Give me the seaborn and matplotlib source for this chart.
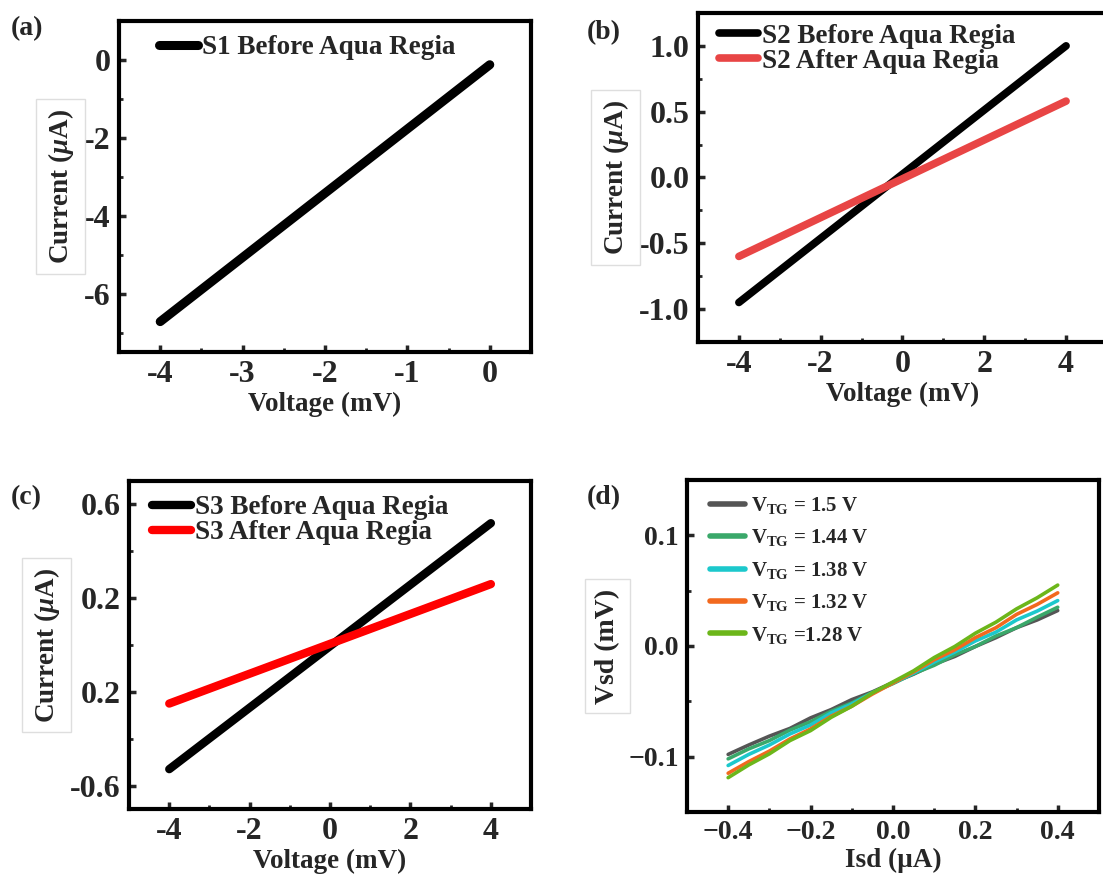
import numpy as np
import pandas as pd
import matplotlib
matplotlib.use("Agg")
import matplotlib.pyplot as plt
import seaborn as sns
from matplotlib.ticker import AutoMinorLocator

# ---- data ----
# (a) S1 before aqua regia
volt_a = [-4, 0]
cur_a = [-6.72, -0.12]

# (b) S2 before / after
volt_b = [-4, 4]
cur_b_before = [-0.95, 1.0]
cur_b_after = [-0.60, 0.58]

# (c) S3 before / after
volt_c = [-4, 4]
cur_c_before = [-0.53, 0.52]
cur_c_after = [-0.25, 0.26]
yticks_c = [-0.6, -0.2, 0.2, 0.6]
ytick_labels_c = ["-0.6", "0.2", "0.2", "0.6"]

# (d) Vsd vs Isd for several top-gate voltages
isd = [-0.4, -0.35, -0.3, -0.25, -0.2, -0.15, -0.1, -0.05, 0.0,
       0.05, 0.1, 0.15, 0.2, 0.25, 0.3, 0.35, 0.4]
vsd_150 = [-0.098, -0.0895, -0.0815, -0.0745, -0.0650, -0.0575, -0.0485, -0.0415, -0.0330,
           -0.0255, -0.0165, -0.0095, -0.0005, 0.0075, 0.0165, 0.0235, 0.0320]
vsd_144 = [-0.102, -0.0930, -0.0855, -0.0760, -0.0685, -0.0590, -0.0515, -0.0420, -0.0340,
           -0.0250, -0.0175, -0.0080, -0.0005, 0.0090, 0.0165, 0.0260, 0.0350]
vsd_138 = [-0.108, -0.0980, -0.0895, -0.0795, -0.0715, -0.0605, -0.0525, -0.0425, -0.0335,
           -0.0245, -0.0145, -0.0055, 0.0045, 0.0125, 0.0235, 0.0315, 0.0410]
vsd_132 = [-0.115, -0.1045, -0.0950, -0.0840, -0.0750, -0.0635, -0.0545, -0.0435, -0.0335,
           -0.0235, -0.0125, -0.0035, 0.0075, 0.0165, 0.0285, 0.0375, 0.0480]
vsd_128 = [-0.119, -0.1075, -0.0975, -0.0855, -0.0765, -0.0645, -0.0545, -0.0425, -0.0325,
           -0.0225, -0.0105, -0.0005, 0.0115, 0.0215, 0.0335, 0.0435, 0.0550]
vtg_labels = [r"$\mathrm{V}_{\mathrm{TG}}$ = 1.5 V", r"$\mathrm{V}_{\mathrm{TG}}$ = 1.44 V",
              r"$\mathrm{V}_{\mathrm{TG}}$ = 1.38 V", r"$\mathrm{V}_{\mathrm{TG}}$ = 1.32 V",
              r"$\mathrm{V}_{\mathrm{TG}}$ =1.28 V"]
vtg_colors = ["#555555", "#3aa86a", "#1cc8cc", "#f2691e", "#6cb61a"]
xticks_d = [-0.4, -0.2, 0.0, 0.2, 0.4]
xtick_labels_d = ["\u22120.4", "\u22120.2", "0.0", "0.2", "0.4"]
yticks_d = [-0.1, 0.0, 0.1]
ytick_labels_d = ["\u22120.1", "0.0", "0.1"]

sns.set_style("ticks")
plt.rcParams["font.family"] = ["Liberation Serif", "DejaVu Serif"]
plt.rcParams["font.weight"] = "bold"
plt.rcParams["axes.labelweight"] = "bold"
plt.rcParams["axes.unicode_minus"] = False
plt.rcParams["mathtext.fontset"] = "custom"
plt.rcParams["mathtext.rm"] = "Liberation Serif:bold"
plt.rcParams["mathtext.it"] = "Liberation Serif:italic:bold"
plt.rcParams["mathtext.bf"] = "Liberation Serif:bold"

fig = plt.figure(figsize=(11.03, 8.8), dpi=100)
ax_a = fig.add_axes([0.1079, 0.600, 0.3735, 0.376])
ax_b = fig.add_axes([0.6328, 0.6114, 0.3708, 0.3739])
ax_c = fig.add_axes([0.1170, 0.0807, 0.3645, 0.3727])
ax_d = fig.add_axes([0.6228, 0.0773, 0.3735, 0.3773])

lab_box = dict(boxstyle="square,pad=0.35", fc="none", ec="#dedede", lw=1)


def style(ax, tsize):
    for s in ax.spines.values():
        s.set_linewidth(3)
        s.set_color("black")
    ax.tick_params(which="major", direction="in", length=5, width=2.5,
                   labelsize=tsize, top=False, right=False, pad=6)
    ax.tick_params(which="minor", direction="in", length=3, width=2)
    ax.xaxis.set_minor_locator(AutoMinorLocator(2))
    ax.yaxis.set_minor_locator(AutoMinorLocator(2))
    for t in ax.get_xticklabels() + ax.get_yticklabels():
        t.set_fontweight("bold")


# (a)
sns.lineplot(x=volt_a, y=cur_a, ax=ax_a, color="black", lw=6.5,
             solid_capstyle="round", label="S1 Before Aqua Regia")
ax_a.set_xlim(-4.5, 0.5)
ax_a.set_ylim(-7.5, 1)
ax_a.set_xticks([-4, -3, -2, -1, 0])
ax_a.set_yticks([-6, -4, -2, 0])

# (b)
sns.lineplot(x=volt_b, y=cur_b_before, ax=ax_b, color="black", lw=5.5,
             solid_capstyle="round", label="S2 Before Aqua Regia")
sns.lineplot(x=volt_b, y=cur_b_after, ax=ax_b, color="#e84545", lw=5.5,
             solid_capstyle="round", label="S2 After Aqua Regia")
ax_b.set_xlim(-5, 5)
ax_b.set_ylim(-1.25, 1.25)
ax_b.set_xticks([-4, -2, 0, 2, 4])
ax_b.set_yticks([-1.0, -0.5, 0.0, 0.5, 1.0])
ax_b.set_yticklabels(["-1.0", "-0.5", "0.0", "0.5", "1.0"])

# (c)
sns.lineplot(x=volt_c, y=cur_c_before, ax=ax_c, color="black", lw=6,
             solid_capstyle="round", label="S3 Before Aqua Regia")
sns.lineplot(x=volt_c, y=cur_c_after, ax=ax_c, color="#ff0000", lw=6,
             solid_capstyle="round", label="S3 After Aqua Regia")
ax_c.set_xlim(-5, 5)
ax_c.set_ylim(-0.7, 0.7)
ax_c.set_xticks([-4, -2, 0, 2, 4])
ax_c.set_yticks(yticks_c)
ax_c.set_yticklabels(ytick_labels_c)

# (d)
for vals, lab, col in zip([vsd_150, vsd_144, vsd_138, vsd_132, vsd_128], vtg_labels, vtg_colors):
    sns.lineplot(x=isd, y=vals, ax=ax_d, color=col, lw=2.6, label=lab, sort=False)
ax_d.set_xlim(-0.5, 0.5)
ax_d.set_ylim(-0.15, 0.15)
ax_d.set_xticks(xticks_d)
ax_d.set_xticklabels(xtick_labels_d)
ax_d.set_yticks(yticks_d)
ax_d.set_yticklabels(ytick_labels_d)

for ax in [ax_a, ax_b, ax_c]:
    style(ax, 23)
style(ax_d, 20)

for ax in [ax_a, ax_b, ax_c]:
    ax.set_xlabel("Voltage (mV)", fontsize=19.5, labelpad=2)
    ax.set_ylabel(r"Current ($\mu$A)", fontsize=19.5, labelpad=6, bbox=lab_box)
ax_d.set_xlabel("Isd (\u00b5A)", fontsize=19.5, labelpad=2)
ax_d.set_ylabel("Vsd (mV)", fontsize=20, labelpad=6, bbox=lab_box)

leg_kw = dict(frameon=False, loc="upper left", handlelength=1.45, handletextpad=0.15,
              labelspacing=0.0, borderaxespad=0, prop={"size": 19.5, "weight": "bold"})
ax_a.legend(bbox_to_anchor=(0.07, 0.99), **leg_kw)
ax_b.legend(bbox_to_anchor=(0.025, 1.0), **leg_kw)
ax_c.legend(bbox_to_anchor=(0.03, 0.99), **leg_kw)
leg_d = ax_d.legend(prop={"size": 15, "weight": "bold"}, bbox_to_anchor=(0.035, 0.98),
                    frameon=False, loc="upper left", handlelength=1.7, handletextpad=0.3,
                    labelspacing=0.55, borderaxespad=0)
for h in leg_d.get_lines():
    h.set_linewidth(4)

fig.text(0.010, 0.968, "(a)", fontsize=20, fontweight="bold", va="center")
fig.text(0.532, 0.963, "(b)", fontsize=20, fontweight="bold", va="center")
fig.text(0.010, 0.435, "(c)", fontsize=20, fontweight="bold", va="center")
fig.text(0.532, 0.435, "(d)", fontsize=20, fontweight="bold", va="center")

fig.savefig("out.png", dpi=100)
